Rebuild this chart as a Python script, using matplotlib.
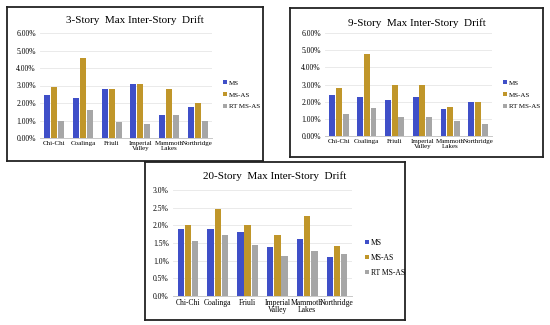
import numpy as np
import matplotlib
matplotlib.use("Agg")
import matplotlib.pyplot as plt
from matplotlib.ticker import FuncFormatter

plt.rcParams['font.family'] = ['Liberation Serif', 'DejaVu Serif']

# ground motions (x categories)
quakes = ["Chi-Chi", "Coalinga", "Friuli", "Imperial\nValley", "Mammoth\nLakes", "Northridge"]
series = ["MS", "MS-AS", "RT MS-AS"]

# max inter-story drift in percent
ms_3 = [2.45, 2.3, 2.8, 3.1, 1.3, 1.8]
msas_3 = [2.9, 4.6, 2.8, 3.1, 2.8, 2.0]
rt_3 = [1.0, 1.6, 0.9, 0.8, 1.3, 1.0]

ms_9 = [2.4, 2.3, 2.1, 2.3, 1.6, 2.0]
msas_9 = [2.8, 4.8, 3.0, 3.0, 1.7, 2.0]
rt_9 = [1.3, 1.65, 1.1, 1.1, 0.9, 0.7]

ms_20 = [1.9, 1.9, 1.82, 1.4, 1.6, 1.1]
msas_20 = [2.0, 2.45, 2.02, 1.72, 2.27, 1.42]
rt_20 = [1.57, 1.72, 1.45, 1.13, 1.27, 1.2]

COLORS = ["#3F4FC8", "#C0962A", "#A6A6A6"]
W, H = 550, 325


def fig_rect(x0, y0, x1, y1):
    # pixel box (top-left origin) -> figure fraction rect
    return [x0 / W, 1 - y1 / H, (x1 - x0) / W, (y1 - y0) / H]


def panel(fig, box, plot, title, title_y, data, ymax, ystep, fmt, leg_xy, z, fs=5.5):
    bg = fig.add_axes(fig_rect(*box), zorder=z)
    bg.set_xticks([])
    bg.set_yticks([])
    for s in bg.spines.values():
        s.set_linewidth(1.3)
        s.set_color("#222222")

    ax = fig.add_axes(fig_rect(*plot), zorder=z + 1)
    ax.patch.set_alpha(0)
    x = np.arange(len(quakes))
    bw = 0.21
    for i, (vals, name) in enumerate(zip(data, series)):
        ax.bar(x + (i - 1) * 0.24, vals, bw, color=COLORS[i], label=name, zorder=3)
    ax.set_xlim(-0.5, len(quakes) - 0.5)
    ax.set_ylim(0, ymax)
    ax.set_yticks(np.arange(0, ymax + 1e-9, ystep))
    ax.yaxis.set_major_formatter(FuncFormatter(lambda v, p: fmt.format(v)))
    ax.set_xticks(x)
    ax.set_xticklabels(quakes, fontsize=fs, linespacing=0.95)
    ax.tick_params(axis="y", labelsize=5.5, length=0, pad=3)
    ax.tick_params(axis="x", length=0, pad=2)
    ax.grid(axis="y", color="#E6E6E6", linewidth=0.6, zorder=0)
    for side in ["top", "right", "left"]:
        ax.spines[side].set_visible(False)
    ax.spines["bottom"].set_color("#C8C8C8")
    ax.spines["bottom"].set_linewidth(0.7)

    cx = (box[0] + box[2]) / 2
    fig.text(cx / W, 1 - title_y / H, title, ha="center", va="center",
             fontsize=8, zorder=z + 2)

    ax.legend(loc="upper left", bbox_to_anchor=(leg_xy[0] / W, 1 - leg_xy[1] / H),
              bbox_transform=fig.transFigure, frameon=False, fontsize=fs,
              handlelength=0.5, handleheight=0.5, handletextpad=0.3,
              labelspacing=0.9, borderpad=0)
    return ax


fig = plt.figure(figsize=(5.5, 3.25), dpi=100)

panel(fig, (7, 7, 263, 161), (40, 33, 212, 138), "3-Story  Max Inter-Story  Drift", 20,
      [ms_3, msas_3, rt_3], 6, 1, "{:.2f}%", (220, 77), 1, fs=5)
panel(fig, (290, 8, 543, 157), (325, 33, 492, 136), "9-Story  Max Inter-Story  Drift", 23,
      [ms_9, msas_9, rt_9], 6, 1, "{:.2f}%", (500, 77), 1, fs=5)
panel(fig, (145, 162, 405, 320), (173, 190, 352, 296), "20-Story  Max Inter-Story  Drift", 176,
      [ms_20, msas_20, rt_20], 3, 0.5, "{:.1f}%", (361, 235), 5)

fig.savefig("out.png", dpi=100, facecolor="white")
